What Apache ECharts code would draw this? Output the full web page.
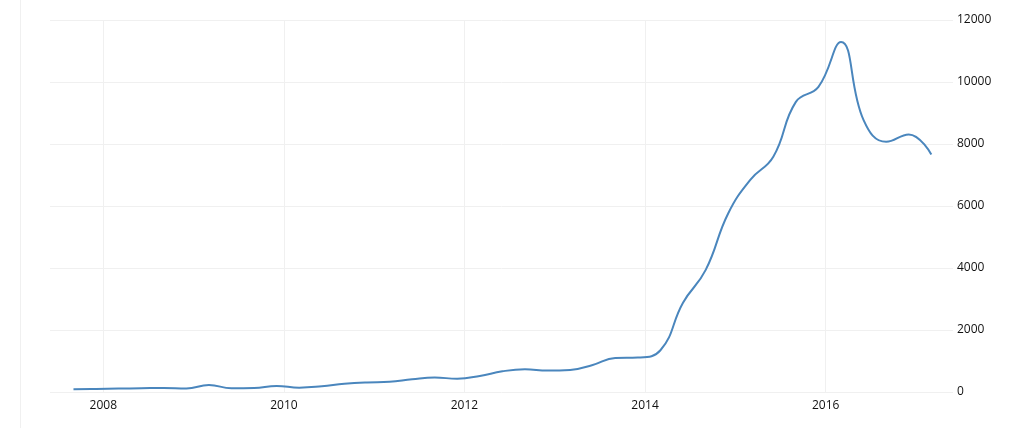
<!DOCTYPE html>
<html>
<head>
<meta charset="utf-8">
<script src="https://cdn.jsdelivr.net/npm/echarts@6/dist/echarts.min.js"></script>
<style>
html,body{margin:0;padding:0;background:#fff;}
#wrap{position:relative;width:1023px;height:428px;}
#edge{position:absolute;left:20px;top:0;width:0;height:428px;border-left:1px solid #f0f0f0;}
#chart{position:absolute;left:0;top:0;width:1023px;height:428px;}
</style>
</head>
<body>
<div id="wrap"><div id="edge"></div><div id="chart"></div></div>
<script>
// quarterly observation times (decimal years)
const periods = [2007.67,2007.92,2008.17,2008.42,2008.67,2008.92,2009.17,2009.42,2009.67,2009.92,
  2010.17,2010.42,2010.67,2010.92,2011.17,2011.42,2011.67,2011.92,2012.17,2012.42,2012.67,2012.92,
  2013.17,2013.42,2013.67,2013.92,2014.17,2014.42,2014.67,2014.92,2015.17,2015.42,2015.67,2015.92,
  2016.17,2016.42,2016.67,2016.92,2017.17];
const values = [90,100,110,120,130,110,225,120,130,195,
  140,185,265,310,330,410,465,430,517,668,733,690,
  710,872,1097,1110,1346,2880,3930,5760,6860,7590,9360,9845,
  11290,8770,8070,8310,7663];
const xTicks = [2008,2010,2012,2014,2016];
const yMin = 0, yMax = 12000, yStep = 2000;

const chart = echarts.init(document.getElementById('chart'), null, {renderer:'canvas'});
chart.setOption({
  animation:false,
  backgroundColor:'transparent',
  grid:{left:50,right:70,top:20,bottom:36,containLabel:false},
  xAxis:{
    type:'value', min:2007.41, max:2017.41,
    axisLine:{show:false},
    axisTick:{show:false, customValues:xTicks},
    axisLabel:{customValues:xTicks, formatter:v=>String(Math.round(v)), color:'#111', fontSize:12,
      fontFamily:'Open Sans, sans-serif', margin:8},
    splitLine:{show:true, lineStyle:{color:'#f0f0f0', width:1}}
  },
  yAxis:{
    type:'value', position:'right', min:yMin, max:yMax, interval:yStep,
    axisLine:{show:false}, axisTick:{show:false},
    axisLabel:{color:'#111', fontSize:12, fontFamily:'Open Sans, sans-serif', margin:4,
      formatter:v=>String(v)},
    splitLine:{show:true, lineStyle:{color:'#f0f0f0', width:1}}
  },
  series:[{
    type:'line', smooth:0.45, showSymbol:false,
    data: periods.map((p,i)=>[p, values[i]]),
    lineStyle:{color:'#4a86bd', width:2},
    itemStyle:{color:'#4a86bd'}
  }]
});
</script>
</body>
</html>
